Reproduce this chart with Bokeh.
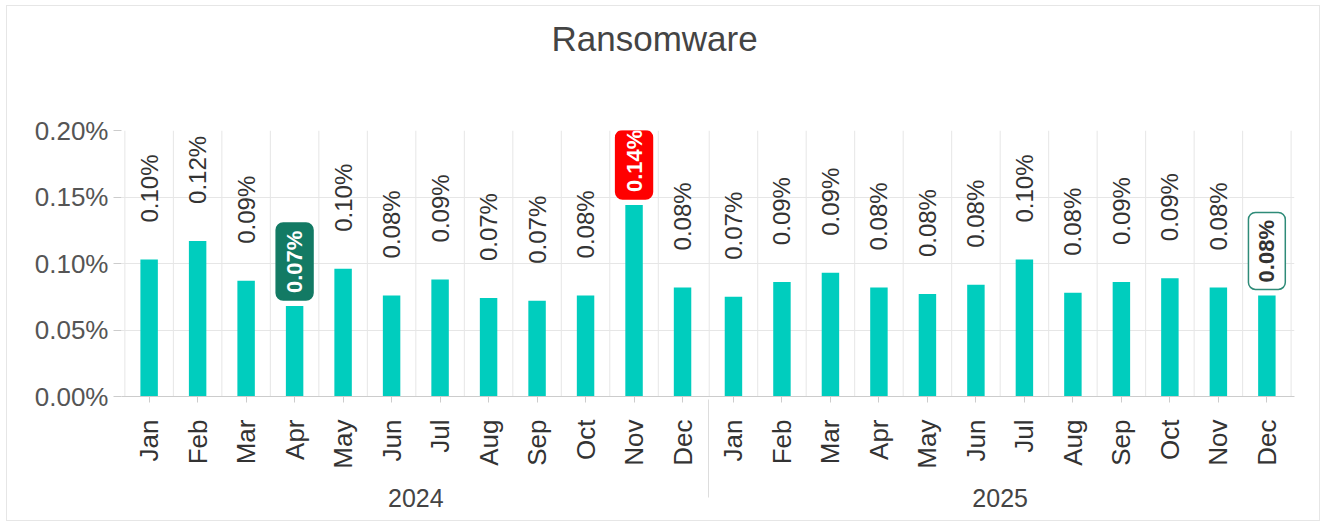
import math
from bokeh.plotting import figure
from bokeh.models import (ColumnDataSource, FactorRange, LabelSet, Title,
                          PrintfTickFormatter, FixedTicker)
from bokeh.core.properties import value
from bokeh.embed import file_html
from bokeh.resources import INLINE

# ---------------- data ----------------
years = ["2024", "2025"]
months = ["Jan", "Feb", "Mar", "Apr", "May", "Jun",
          "Jul", "Aug", "Sep", "Oct", "Nov", "Dec"]
values_2024 = [0.103, 0.117, 0.087, 0.068, 0.096, 0.076,
               0.088, 0.074, 0.072, 0.076, 0.144, 0.082]
values_2025 = [0.075, 0.086, 0.093, 0.082, 0.077, 0.084,
               0.103, 0.078, 0.086, 0.089, 0.082, 0.076]
y_ticks = [0.0, 0.05, 0.10, 0.15, 0.20]
title_text = "Ransomware"
# highlighted points: (year, month, style key)
highlights = [("2024", "Apr", "min"), ("2024", "Nov", "max"), ("2025", "Dec", "last")]

# ---------------- build ----------------
factors = [(y, m) for y in years for m in months]
values = values_2024 + values_2025
labels = [f"{v:.2f}%" for v in values]
hl_keys = {(y, m) for y, m, _ in highlights}

src = ColumnDataSource(dict(x=factors, top=values, label=labels))
plain = [i for i, f in enumerate(factors) if f not in hl_keys]
src_lbl = ColumnDataSource(dict(x=[factors[i] for i in plain],
                                top=[values[i] for i in plain],
                                label=[labels[i] for i in plain]))

FONT = "Liberation Sans"
FRAME_W, FRAME_H = 1173, 266
MB_LEFT, MB_RIGHT, MB_TOP, MB_BOTTOM = 114, 25, 124, 124

p = figure(x_range=FactorRange(*factors, group_padding=0.05, range_padding=0.0058),
           y_range=(y_ticks[0], y_ticks[-1]),
           frame_width=FRAME_W, frame_height=FRAME_H,
           output_backend="svg", toolbar_location=None,
           min_border_left=MB_LEFT, min_border_right=MB_RIGHT,
           min_border_top=MB_TOP, min_border_bottom=MB_BOTTOM)
p.border_fill_color = "white"
p.outline_line_color = None
p.styles = {"border": "1px solid #e6e6e6", "margin-left": "6px", "margin-top": "5px"}

# spacer between frame and title (first "above" panel sits nearest the frame)
p.add_layout(Title(text=" ", text_font_size="10px", standoff=52), "above")
p.add_layout(Title(text=title_text, align="left", offset=430, standoff=16,
                   text_font=FONT, text_font_size="35px", text_font_style="normal",
                   text_color="#444444"), "above")

# vertical grid lines at category boundaries
bx = [(y, m, -0.5) for (y, m) in factors] + [(factors[-1][0], factors[-1][1], 0.5)]
p.segment(x0=bx, x1=bx, y0=[y_ticks[0]] * len(bx), y1=[y_ticks[-1]] * len(bx),
          line_color="#e6e6e6", line_width=1)

p.vbar(x="x", top="top", width=0.36, source=src, fill_color="#00CDBE",
       line_color=None)

# plain value labels
ls = LabelSet(x="x", y="top", text="label", source=src_lbl, angle=math.pi / 2,
              text_align="left", text_baseline="middle", y_offset=37,
              text_font=value(FONT), text_font_size=value("24px"),
              text_color="#333333")
p.add_layout(ls)

# highlighted labels: rounded boxes placed a few pixels above the bar
px = (y_ticks[-1] - y_ticks[0]) / FRAME_H  # data units per pixel
styles = {
    "min": dict(fill="#137A64", line="#137A64", text="white"),
    "max": dict(fill="#FF0000", line="#FF0000", text="white"),
    "last": dict(fill="white", line="#2E8B78", text="#333333"),
}
for y, m, key in highlights:
    i = factors.index((y, m))
    st = styles[key]
    hsrc = ColumnDataSource(dict(x=[(y, m)], top=[values[i]], label=[labels[i]],
                                 b0=[values[i] + 6 * px], b1=[values[i] + 83 * px]))
    try:
        p.vbar(x="x", bottom="b0", top="b1", width=0.76, source=hsrc,
               fill_color=st["fill"], line_color=st["line"], line_width=1.5,
               border_radius=7)
    except Exception:
        p.vbar(x="x", bottom="b0", top="b1", width=0.76, source=hsrc,
               fill_color=st["fill"], line_color=st["line"], line_width=1.5)
    lab = LabelSet(x="x", y="top", text="label", source=hsrc, angle=math.pi / 2,
                   text_align="left", text_baseline="middle", y_offset=13,
                   text_font=value(FONT), text_font_size=value("22px"),
                   text_font_style="bold", text_color=st["text"])
    p.add_layout(lab)

# y axis
p.yaxis.ticker = FixedTicker(ticks=y_ticks)
p.yaxis.formatter = PrintfTickFormatter(format="%.2f%%")
p.yaxis.axis_line_color = None
p.yaxis.major_tick_line_color = "#cccccc"
p.yaxis.major_tick_out = 8
p.yaxis.major_tick_in = 0
p.yaxis.minor_tick_line_color = None
p.yaxis.major_label_text_font = FONT
p.yaxis.major_label_text_font_size = "26px"
p.yaxis.major_label_text_color = "#555555"
p.yaxis.major_label_standoff = 5

p.ygrid.grid_line_color = "#e6e6e6"
p.xgrid.grid_line_color = None

# x axis
p.xaxis.axis_line_color = "#cccccc"
p.xaxis.major_tick_line_color = "#cccccc"
p.xaxis.major_tick_out = 6
p.xaxis.major_tick_in = 0
p.xaxis.major_label_orientation = math.pi / 2
p.xaxis.major_label_text_font = FONT
p.xaxis.major_label_text_font_size = "26px"
p.xaxis.major_label_text_color = "#333333"
p.xaxis.major_label_standoff = 17
p.xaxis.group_text_font = FONT
p.xaxis.group_text_font_size = "25px"
p.xaxis.group_text_font_style = "normal"
p.xaxis.group_text_color = "#444444"
p.xaxis.group_label_orientation = "horizontal"
p.xaxis.separator_line_color = "#dddddd"
p.xaxis.separator_line_width = 1

open("out.html", "w").write(file_html(p, INLINE))
